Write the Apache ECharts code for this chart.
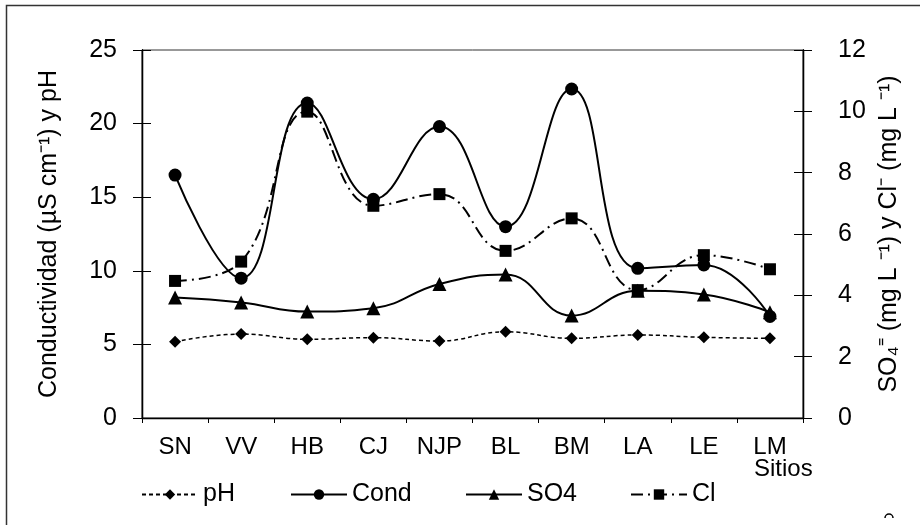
<!DOCTYPE html>
<html>
<head>
<meta charset="utf-8">
<script src="https://cdn.jsdelivr.net/npm/echarts@6/dist/echarts.min.js"></script>
<style>html,body{margin:0;padding:0;background:#fff}#c{width:920px;height:525px}</style>
</head>
<body>
<div id="c"></div>
<script>
var categories = ['SN','VV','HB','CJ','NJP','BL','BM','LA','LE','LM'];
var pH   = [5.18, 5.70, 5.35, 5.46, 5.23, 5.86, 5.41, 5.64, 5.48, 5.41];
var cond = [16.5, 9.5, 21.4, 14.86, 19.8, 13.0, 22.35, 10.17, 10.4, 6.9];
var so4  = [3.93, 3.77, 3.47, 3.58, 4.37, 4.68, 3.34, 4.15, 4.03, 3.45];
var cl   = [4.47, 5.10, 9.99, 6.92, 7.30, 5.45, 6.51, 4.17, 5.31, 4.85];
var leftTicks = [0, 25, 5];
var rightTicks = [0, 12, 2];

var FONT = '"Liberation Sans", Arial, sans-serif';
var chart = echarts.init(document.getElementById('c'), null, {renderer: 'canvas'});

function yAx(pos, t, labels, inside) {
  return {
    type: 'value', position: pos, min: t[0], max: t[1], interval: t[2],
    splitLine: {show: false},
    axisLine: {show: true, lineStyle: {color: '#000', width: 1.3}},
    axisTick: {show: true, inside: inside, length: 9, lineStyle: {color: '#000', width: 1}},
    axisLabel: {show: labels, color: '#000', fontFamily: FONT, fontSize: 25, margin: pos === 'left' ? 25 : 35}
  };
}
var y0 = yAx('left', leftTicks, true, false);
y0.name = 'Conductividad (\u00b5S cm\u207b\u00b9) y pH';
y0.nameLocation = 'middle'; y0.nameGap = 80; y0.nameRotate = 90;
y0.nameTextStyle = {color: '#000', fontFamily: FONT, fontSize: 25};
var y1 = yAx('right', rightTicks, true, false);
y1.name = 'SO\u2084\u207c (mg L \u207b\u00b9) y Cl\u207b (mg L \u207b\u00b9)';
y1.nameLocation = 'middle'; y1.nameGap = 60; y1.nameRotate = 90;
y1.nameTextStyle = {color: '#000', fontFamily: FONT, fontSize: 25};
var y2 = yAx('left', leftTicks, false, true);
var y3 = yAx('right', rightTicks, false, true);

function ser(name, data, yi, symbol, size, ltype, lw) {
  return {
    name: name, type: 'line', data: data, yAxisIndex: yi, smooth: 0.45,
    symbol: symbol, symbolSize: size, showSymbol: true,
    itemStyle: {color: '#000'},
    lineStyle: {color: '#000', width: lw, type: ltype},
    emphasis: {disabled: true}, z: 3
  };
}

function leg(name, left) {
  return {
    data: [name], left: left, top: 482, itemWidth: 56, itemHeight: 13, itemGap: 0,
    textStyle: {color: '#000', fontFamily: FONT, fontSize: 25}, padding: 0
  };
}

chart.setOption({
  animation: false,
  backgroundColor: '#fff',
  grid: {left: 142, right: 117, top: 50, bottom: 107, show: true, borderColor: '#333', borderWidth: 1, backgroundColor: 'transparent'},
  legend: [leg('pH', 141), leg('Cond', 290), leg('SO4', 465), leg('Cl', 630)],
  xAxis: {
    type: 'category', data: categories, boundaryGap: true,
    axisLine: {lineStyle: {color: '#000', width: 1.3}},
    axisTick: {show: true, length: 5, lineStyle: {color: '#000'}},
    axisLabel: {color: '#000', fontFamily: FONT, fontSize: 24, margin: 17},
    splitLine: {show: false}
  },
  yAxis: [y0, y1, y2, y3],
  series: [
    ser('pH', pH, 0, 'diamond', 12, [4, 3], 1.5),
    ser('Cond', cond, 0, 'circle', 13, 'solid', 2),
    ser('SO4', so4, 1, 'triangle', 14, 'solid', 2),
    ser('Cl', cl, 1, 'rect', 12, [12, 5, 2, 5], 2)
  ],
  graphic: [
    {type: 'rect', left: 4, top: 3, shape: {x: 0, y: 0, width: 1000, height: 600}, style: {fill: 'none', stroke: '#333', lineWidth: 1.5}, silent: true},
    {type: 'text', left: 754, top: 457, style: {text: 'Sitios', fill: '#000', font: '24px ' + FONT}},
    {type: 'arc', shape: {cx: 889, cy: 518, r: 4, startAngle: Math.PI, endAngle: 2 * Math.PI}, style: {stroke: '#000', lineWidth: 1.5, fill: 'none'}, silent: true}
  ]
});
</script>
</body>
</html>
